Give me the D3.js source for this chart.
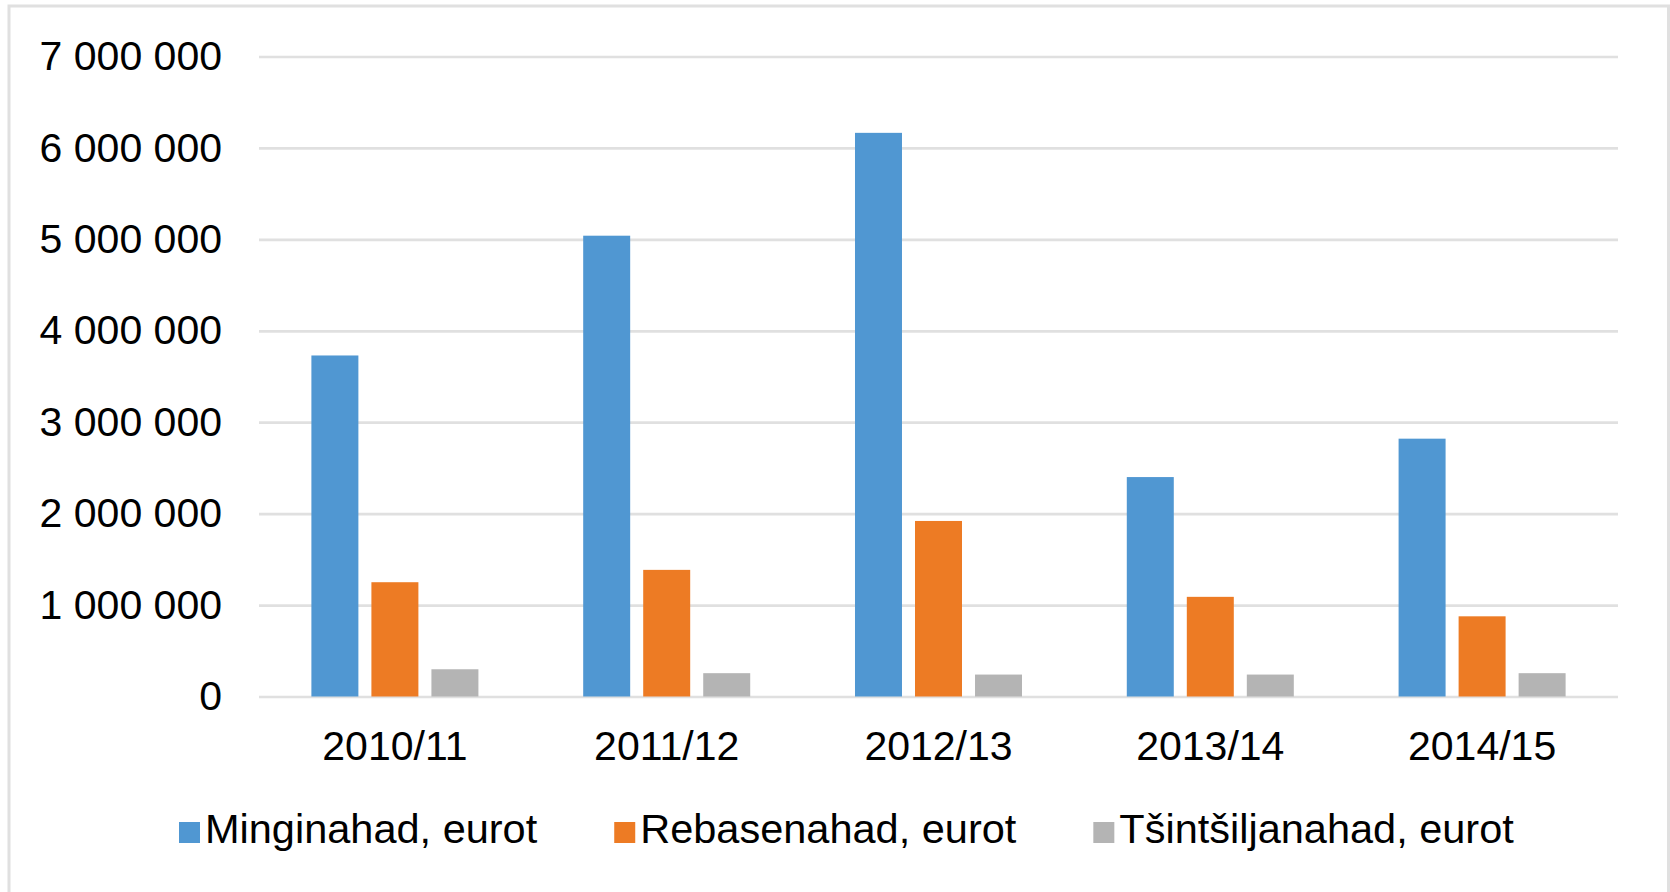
<!DOCTYPE html>
<html>
<head>
<meta charset="utf-8">
<script src="https://cdn.jsdelivr.net/npm/d3@7"></script>
<style>
  body { margin: 0; background: #fff; }
  text { font-family: "Liberation Sans", Arial, sans-serif; fill: #000; }
</style>
</head>
<body>
<div id="chart"></div>
<script>
// chart data
var years = ["2010/11", "2011/12", "2012/13", "2013/14", "2014/15"];
var seriesNames = ["Minginahad, eurot", "Rebasenahad, eurot", "Tšintšiljanahad, eurot"];
var mink = [3730000, 5040000, 6165000, 2400000, 2820000];
var fox = [1250000, 1385000, 1920000, 1090000, 877000];
var chinchilla = [298000, 255000, 240000, 240000, 255000];
var yTicks = [0, 1000000, 2000000, 3000000, 4000000, 5000000, 6000000, 7000000];
var colors = ["#5097d2", "#ed7b24", "#b4b4b4"];

var svgWidth = 1670, svgHeight = 892;
var margin = {top: 56.5, right: 52, bottom: 195.5, left: 259};
var width = svgWidth - margin.left - margin.right;
var height = svgHeight - margin.top - margin.bottom;

var svg = d3.select("#chart")
  .append("svg")
  .attr("width", svgWidth)
  .attr("height", svgHeight);

// outer frame
svg.append("rect")
  .attr("x", 9)
  .attr("y", 6)
  .attr("width", 1659.5)
  .attr("height", 900)
  .attr("fill", "none")
  .attr("stroke", "#e0e0e0")
  .attr("stroke-width", 3);

var chartGroup = svg.append("g")
  .attr("transform", `translate(${margin.left}, ${margin.top})`);

var table = years.map(function(y, i) {
  return {year: y, values: [mink[i], fox[i], chinchilla[i]]};
});

var x0 = d3.scaleBand()
  .domain(years)
  .range([0, width])
  .padding(0);

var x1 = d3.scaleBand()
  .domain(d3.range(seriesNames.length))
  .range([0, x0.bandwidth()])
  .paddingInner(0.217)
  .paddingOuter(0.873);

var yScale = d3.scaleLinear()
  .domain([0, 7000000])
  .range([height, 0]);

var locale = d3.formatLocale({decimal: ",", thousands: " ", grouping: [3], currency: ["", " €"]});
var fmt = locale.format(",d");

// gridlines + y labels
var leftAxis = d3.axisLeft(yScale)
  .tickValues(yTicks)
  .tickFormat(fmt)
  .tickSize(-width)
  .tickPadding(37);

var yAxisG = chartGroup.append("g").call(leftAxis);
yAxisG.select(".domain").remove();
yAxisG.selectAll(".tick line")
  .attr("stroke", "#e0e0e0")
  .attr("stroke-width", 2.7);
yAxisG.selectAll(".tick text")
  .style("font-size", "41px")
  .attr("fill", "#000");

// bars
var groups = chartGroup.selectAll(".year")
  .data(table)
  .enter()
  .append("g")
  .attr("class", "year")
  .attr("transform", d => `translate(${x0(d.year)}, 0)`);

groups.selectAll("rect")
  .data(d => d.values)
  .enter()
  .append("rect")
  .attr("x", (d, i) => x1(i))
  .attr("y", d => yScale(d))
  .attr("width", x1.bandwidth())
  .attr("height", d => height - yScale(d))
  .attr("fill", (d, i) => colors[i]);

// x labels
var bottomAxis = d3.axisBottom(x0)
  .tickSize(0)
  .tickPadding(34);

var xAxisG = chartGroup.append("g")
  .attr("transform", `translate(0, ${height})`)
  .call(bottomAxis);
xAxisG.select(".domain").remove();
xAxisG.selectAll(".tick text")
  .style("font-size", "41px")
  .attr("fill", "#000");

// legend
var legend = svg.append("g").attr("transform", "translate(179, 0)");
var lx = 0;
seriesNames.forEach(function(name, i) {
  var item = legend.append("g").attr("transform", `translate(${lx}, 0)`);
  item.append("rect")
    .attr("x", 0)
    .attr("y", 822)
    .attr("width", 21)
    .attr("height", 21)
    .attr("fill", colors[i]);
  var t = item.append("text")
    .attr("x", 26)
    .attr("y", 843.3)
    .style("font-size", "41.5px")
    .text(name);
  lx += 26 + t.node().getComputedTextLength() + 77;
});
</script>
</body>
</html>
